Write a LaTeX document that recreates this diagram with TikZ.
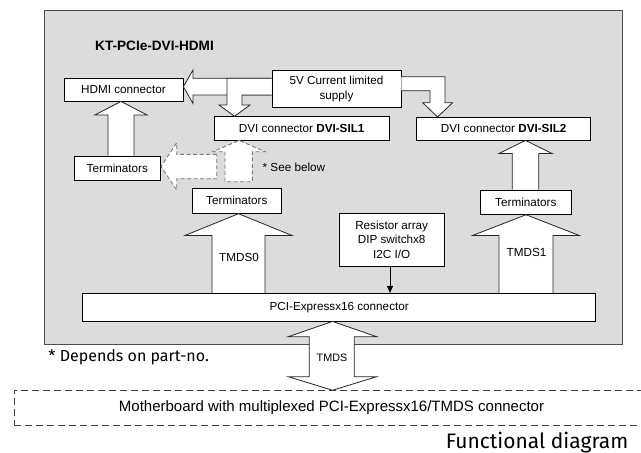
\documentclass[tikz,border=0pt]{standalone}
\usepackage{fontspec}
\setmainfont{Liberation Sans}
\newfontfamily\capfont{Fira Sans}
\usetikzlibrary{calc,arrows.meta}
\definecolor{framegray}{RGB}{220,220,220}
\definecolor{dashgray}{RGB}{120,120,120}
\newcommand\upblock[6]{\draw[blockarrow] let \p1=(#1,0 |- #2.south), \p2=(#1,0 |- #3.north) in
  (\x1-#5pt,\y2) -- (\x1-#5pt,\y1-#6pt) -- (\x1-#4pt,\y1-#6pt) -- (\x1,\y1) -- (\x1+#4pt,\y1-#6pt) -- (\x1+#5pt,\y1-#6pt) -- (\x1+#5pt,\y2);}
\begin{document}
\begin{tikzpicture}[x=1pt,y=-1pt,
  font=\fontsize{11.7}{14.5}\selectfont,
  box/.style={draw=black, fill=white, line width=0.8pt, inner sep=0pt, align=center},
  blockarrow/.style={draw=black!85, fill=white, line width=0.8pt, line join=miter},
  dasharrow/.style={draw=dashgray, fill=white, line width=0.9pt, dash pattern=on 4pt off 2.5pt},
  lbl/.style={inner sep=0pt}]
\useasboundingbox (0,0) rectangle (641,453);
\fill[white] (0,0) rectangle (641,453);
% frame
\draw[fill=framegray, draw=black!70, line width=1pt] (44,10) rectangle (622,344.5);
\node[lbl, anchor=base west, font=\fontsize{13.6}{16}\selectfont\bfseries] (title) at (95,50) {KT-PCIe-DVI-HDMI};
% boxes
\node[box, minimum width=119pt, minimum height=23pt] (hdmi) at (123.5,89.5) {HDMI connector};
\node[box, minimum width=129pt, minimum height=36.3pt] (supply) at (336.5,88.8) {5V Current limited\\supply};
\node[box, minimum width=174.7pt, minimum height=23.3pt] (sil1) at (301.7,128.3) {DVI connector \textbf{DVI-SIL1}};
\node[box, minimum width=174pt, minimum height=22.7pt] (sil2) at (503.7,128.7) {DVI connector \textbf{DVI-SIL2}};
\node[box, minimum width=86.7pt, minimum height=24pt] (termL) at (117.3,168) {Terminators};
\node[box, minimum width=88.3pt, minimum height=25pt] (termM) at (236.8,200.8) {Terminators};
\node[box, minimum width=91.7pt, minimum height=24.3pt] (termR) at (525.8,202.2) {Terminators};
\node[box, minimum width=104.7pt, minimum height=52.7pt] (resist) at (391.7,239.7) {Resistor array\\DIP switchx8\\I2C I/O};
\node[box, minimum width=512.9pt, minimum height=27.7pt] (pci) at (339.2,307.2) {PCI-Expressx16 connector};
% supply arrows
\draw[blockarrow] (supply.west |- 0,78.3) -- (193,78.3) -- (193,70) -- (hdmi.east |- 0,86.7) -- (193,103.5) -- (193,95) -- (supply.west |- 0,95);
\draw[blockarrow] (supply.west |- 0,78.3) -- (227,78.3) -- (227,105) -- (219,105) -- (234.5,0 |- sil1.north) -- (250,105) -- (242,105) -- (242,95) -- (supply.west |- 0,95);
\draw[blockarrow] (supply.east |- 0,76.7) -- (445,76.7) -- (445,102.7) -- (452.7,102.7) -- (437.5,0 |- sil2.north) -- (422.7,102.7) -- (430,102.7) -- (430,90.7) -- (supply.east |- 0,90.7);
% up arrows
\upblock{121}{hdmi}{termL}{26}{13}{13.5}
\upblock{525.5}{sil2}{termR}{26.5}{13.2}{13}
\upblock{238.5}{termM}{pci}{53.3}{26.5}{21.7}
\upblock{526}{termR}{pci}{53.3}{27}{20.7}
\node[lbl] (tmds0) at (239,257) {TMDS0};
\node[lbl] (tmds1) at (526.5,252) {TMDS1};
% dashed optional arrows
\draw[dasharrow] (216.7,154.3) -- (176.7,154.3) -- (176.7,142.7) -- (termL.east |- 0,166.5) -- (176.7,190) -- (176.7,178.7) -- (216.7,178.7) -- cycle;
\draw[dasharrow] (225,181.7) -- (225,151.7) -- (213,151.7) -- (239,0 |- sil1.south) -- (265,151.7) -- (252.3,151.7) -- (252.3,181.7) -- cycle;
\node[lbl, anchor=west] (see) at (262.5,167) {* See below};
% resistor arrow
\draw[line width=0.8pt, -{Triangle[length=7pt,width=6pt]}] (390,0 |- resist.south) -- (390,0 |- pci.north);
% motherboard
\node[draw=black!75, line width=0.9pt, dash pattern=on 7pt off 4pt, inner sep=0pt, minimum width=650pt, minimum height=34.3pt] (mobo) at (339,407.85) {};
\node[lbl, anchor=base, font=\fontsize{15}{18}\selectfont] (mobotext) at (331.5,411.7) {Motherboard with multiplexed PCI-Expressx16/TMDS connector};
% TMDS double arrow
\draw[blockarrow] let \p1=(332.5,0 |- pci.south), \p2=(332.5,0 |- mobo.north) in
  (309.3,336.7) -- (288.3,336.7) -- (\x1,\y1) -- (376.7,336.7) -- (354.3,336.7) -- (354.3,376.7) -- (376.7,376.7) -- (\x2,\y2) -- (288.3,376.7) -- (309.3,376.7) -- cycle;
\node[lbl, font=\fontsize{10.8}{13}\selectfont] (tmds) at (332,357.5) {TMDS};
% captions
\node[lbl, anchor=base west, font=\capfont\fontsize{16}{19}\selectfont] (dep) at (48.3,361.7) {* Depends on part-no.};
\node[lbl, anchor=base east, font=\capfont\fontsize{21}{25}\selectfont] (func) at (628.5,448.3) {Functional diagram};
\end{tikzpicture}
\end{document}
